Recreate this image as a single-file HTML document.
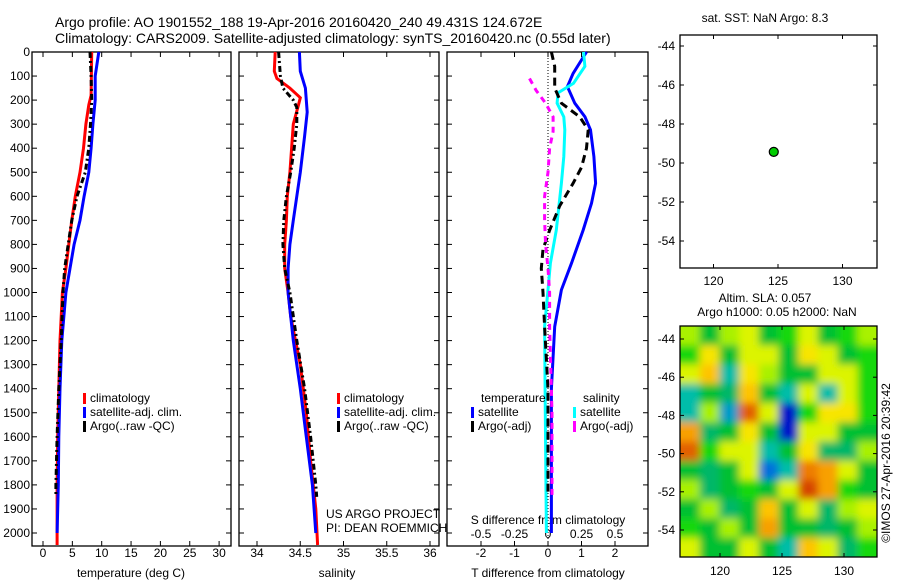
<!DOCTYPE html>
<html><head><meta charset="utf-8"><style>
body{margin:0;background:#fff;}
svg{display:block;font-family:"Liberation Sans",sans-serif;}
text{fill:#000;}
</style></head><body>
<svg id="c" width="900" height="580" viewBox="0 0 900 580">
<defs><filter id="blur" x="0" y="0" width="1" height="1"><feGaussianBlur stdDeviation="4"/></filter>
<clipPath id="hmclip"><rect x="680" y="326" width="197" height="231"/></clipPath></defs>
<text x="55" y="27" font-size="14">Argo profile: AO 1901552_188 19-Apr-2016 20160420_240 49.431S 124.672E</text>
<text x="55" y="43" font-size="14">Climatology: CARS2009. Satellite-adjusted climatology: synTS_20160420.nc (0.55d later)</text>
</svg>
<script>
// ---- data ----
const depthTicks=[0,100,200,300,400,500,600,700,800,900,1000,1100,1200,1300,1400,1500,1600,1700,1800,1900,2000];
const tempTicks=[0,5,10,15,20,25,30];
const salTicks=[34,34.5,35,35.5,36];
const dTTicks=[-2,-1,0,1,2];
const dSTicks=[-0.5,-0.25,0,0.25,0.5];
const tClimD=[0,180,220,300,400,500,600,700,800,900,1000,1200,1400,1600,1800,2050];
const tClimV=[8.3,8.2,7.8,7.3,6.9,6.3,5.5,4.9,4.4,3.9,3.3,2.9,2.7,2.5,2.4,2.4];
const tSatD=[0,100,200,300,400,500,600,700,800,900,1000,1200,1400,1600,1800,2000];
const tSatV=[9.5,8.9,8.9,8.5,8.2,7.8,7.0,6.3,5.3,4.6,3.9,3.2,2.9,2.7,2.6,2.4];
const tArgoD=[0,100,200,300,400,500,600,700,800,900,1000,1200,1400,1600,1800,1850];
const tArgoV=[8.0,8.2,8.3,8.1,7.8,7.2,5.8,4.9,4.3,3.7,3.4,3.1,2.7,2.4,2.2,2.2];
const sClimD=[0,80,110,150,190,220,300,400,500,600,700,800,900,1000,1100,1300,1500,1700,1900,2050];
const sClimV=[34.21,34.2,34.23,34.38,34.5,34.48,34.42,34.4,34.38,34.35,34.34,34.32,34.32,34.36,34.39,34.5,34.57,34.62,34.68,34.7];
const sSatD=[0,80,150,250,350,500,600,700,800,900,1000,1200,1400,1600,1800,2000];
const sSatV=[34.49,34.5,34.56,34.58,34.55,34.5,34.46,34.42,34.38,34.36,34.36,34.42,34.5,34.57,34.64,34.68];
const sArgoD=[0,100,150,200,230,300,400,500,600,700,800,900,1000,1200,1400,1600,1800,1850];
const sArgoV=[34.25,34.27,34.3,34.42,34.46,34.46,34.43,34.39,34.34,34.31,34.3,34.32,34.38,34.46,34.55,34.62,34.68,34.69];
const dTSatD=[0,89,144,213,269,324,435,546,629,740,878,989,1142,1400,1700,2000];
const dTSatV=[1.15,0.75,0.58,0.8,1.1,1.27,1.37,1.42,1.3,1.05,0.7,0.4,0.2,0.1,0.1,0.1];
const dSSatD=[0,60,130,170,213,270,324,435,546,740,878,989,1142,1500,2000];
const dSSatV=[0.265,0.275,0.19,0.075,0.068,0.118,0.125,0.118,0.1,0.062,0.018,0,-0.025,-0.02,-0.012];
const dTArgoD=[0,60,150,213,270,324,400,480,546,640,740,820,900,1000,1142,1400,1850];
const dTArgoV=[0.1,0.2,0.2,0.4,0.95,1.2,1.15,1.0,0.75,0.35,0.05,-0.15,-0.2,-0.15,-0.1,0,0];
const dSArgoD=[110,160,213,270,330,400,500,600,700,800,900,1000,1142,1500,1850];
const dSArgoV=[-0.138,-0.088,-0.018,0.038,0.038,0.012,0,-0.025,-0.025,-0.018,0,0.012,0.012,0.03,0.03];
const lonTicks=[120,125,130];
const latTicks=[-44,-46,-48,-50,-52,-54];
const latTicks2=[-44,-46,-48,-50,-52,-54];
const floatLon=[124.672];
const floatLat=[-49.431];
const slaGrid=[
[0.1,-0.2,0.1,0.2,-0.2,-0.1,0.2,-0.2,-0.1,0.1],
[-0.1,0.3,-0.2,0.2,0.2,-0.2,0.3,0.2,-0.2,-0.1],
[0.2,0.4,-0.4,0.3,0.1,-0.2,-0.2,0.2,0.2,-0.1],
[-0.4,-0.2,-0.3,0.4,-0.2,-0.4,0.2,-0.4,0.2,-0.1],
[-0.4,0.1,-0.5,0.7,0.2,-1.0,-0.1,0.3,0.3,-0.1],
[0.5,-0.3,-0.2,0.3,-0.2,-0.9,0.2,0.2,-0.2,-0.2],
[0.7,-0.1,0.2,0.2,-0.4,-0.2,0.3,-0.3,-0.3,0.1],
[-0.2,-0.3,-0.2,0.2,-0.6,-0.4,0.6,0.5,0.2,-0.2],
[0.1,-0.3,-0.2,-0.1,-0.2,0.2,0.8,0.5,-0.1,-0.2],
[-0.2,0.1,-0.3,-0.2,0.4,-0.2,0.2,-0.3,0.1,0.2],
[-0.1,-0.2,0.1,-0.2,0.5,-0.2,-0.2,-0.3,-0.2,0.1],
[0.2,-0.2,-0.2,0.2,-0.2,-0.4,0.4,0.2,-0.3,-0.1]];

const svg=document.getElementById('c');
const NS='http://www.w3.org/2000/svg';
function mk(tag,attrs,parent){const e=document.createElementNS(NS,tag);for(const k in attrs)e.setAttribute(k,attrs[k]);(parent||svg).appendChild(e);return e;}
function txt(x,y,s,size,anchor,parent){const t=mk('text',{x:x,y:y,'font-size':size,'text-anchor':anchor||'start'},parent);t.textContent=s;return t;}

const TOP=52,BOT=546;
const yD=d=>TOP+d*0.2405;
const P1={l:32,r:231}, P2={l:239,r:439}, P3={l:447,r:648};
const xT=t=>43+5.87*t;
const xS=s=>257+86.5*(s-34);
const xDT=v=>548+33.5*v;
const xDS=v=>548+134*v;

function frame(P,name){
  const r=mk('rect',{x:P.l,y:TOP,width:P.r-P.l,height:BOT-TOP,fill:'none',stroke:'#000','stroke-width':1.3});
  
  
  depthTicks.forEach(d=>{mk('line',{x1:P.l,x2:P.l+5,y1:yD(d),y2:yD(d),stroke:'#000'});mk('line',{x1:P.r,x2:P.r-5,y1:yD(d),y2:yD(d),stroke:'#000'});});
}
function xticks(P,ticks,fx,labY,name){
  const g=mk('g',{});
  
  
  ticks.forEach(v=>{const x=fx(v);mk('line',{x1:x,x2:x,y1:BOT,y2:BOT-5,stroke:'#000'},g);mk('line',{x1:x,x2:x,y1:TOP,y2:TOP+5,stroke:'#000'},g);if(labY)txt(x,labY,String(v),12,'middle',g);});
}
function line(D,V,fx,color,dash,name,w){
  const pts=D.map((d,i)=>fx(V[i]).toFixed(1)+','+yD(d).toFixed(1)).join(' ');
  const p=mk('polyline',{points:pts,fill:'none',stroke:color,'stroke-width':w||3,'stroke-dasharray':dash||'none'});
  
  
}
function legend(x,y,items,name){
  const g=mk('g',{});
  
  
  items.forEach((it,i)=>{mk('rect',{x:x,y:y+i*14-9,width:3,height:11,fill:it[1]},g);txt(x+7,y+i*14,it[0],12,'start',g);});
}

// panel 1
frame(P1,'temperature-panel');
const yl=mk('g',{});


depthTicks.forEach(d=>txt(30,yD(d)+4,String(d),12,'end',yl));
xticks(P1,tempTicks,xT,557,'temperature-x-axis');
txt(131,577,'temperature (deg C)',12,'middle');
line(tClimD,tClimV,xT,'#ff0000',null,'temp-climatology-line');
line(tSatD,tSatV,xT,'#0000ff',null,'temp-satellite-line');
line(tArgoD,tArgoV,xT,'#000',"6,3,2,3",'temp-argo-line');
legend(83,402,[['climatology','#ff0000'],['satellite-adj. clim.','#0000ff'],['Argo(..raw -QC)','#000']],'temperature-legend');

// panel 2
frame(P2,'salinity-panel');
xticks(P2,salTicks,xS,557,'salinity-x-axis');
txt(337,577,'salinity',12,'middle');
line(sClimD,sClimV,xS,'#ff0000',null,'sal-climatology-line');
line(sSatD,sSatV,xS,'#0000ff',null,'sal-satellite-line');
line(sArgoD,sArgoV,xS,'#000',"6,3,2,3",'sal-argo-line');
legend(337,402,[['climatology','#ff0000'],['satellite-adj. clim.','#0000ff'],['Argo(..raw -QC)','#000']],'salinity-legend');
txt(326,518,'US ARGO PROJECT',12);
txt(326,532,'PI: DEAN ROEMMICH',12);

// panel 3
frame(P3,'difference-panel');
xticks(P3,dTTicks,xDT,557,'dT-x-axis');
const sl=mk('g',{});


dSTicks.forEach(v=>txt(xDS(v),538,String(v),12,'middle',sl));
txt(548,524,'S difference from climatology',12,'middle');
txt(548,577,'T difference from climatology',12,'middle');
mk('line',{x1:xDT(0),x2:xDT(0),y1:TOP,y2:BOT,stroke:'#000','stroke-dasharray':'1,2'});
line(dTSatD,dTSatV,xDT,'#0000ff',null,'dT-satellite-line');
line(dSSatD,dSSatV,xDS,'#00ffff',null,'dS-satellite-line');
line(dTArgoD,dTArgoV,xDT,'#000',"8,5",'dT-argo-line');
line(dSArgoD,dSArgoV,xDS,'#ff00ff',"6,5",'dS-argo-line');
txt(481,402,'temperature',12);
txt(583,402,'salinity',12);
legend(471,416,[['satellite','#0000ff'],['Argo(-adj)','#000']],'diff-temp-legend');
legend(573,416,[['satellite','#00ffff'],['Argo(-adj)','#ff00ff']],'diff-sal-legend');

// map 1
const M1={l:680,r:877,t:35,b:268};
const mx1=lon=>778+12.9*(lon-125);
const my1=lat=>46+19.5*(-44-lat);
const m1=mk('rect',{x:M1.l,y:M1.t,width:M1.r-M1.l,height:M1.b-M1.t,fill:'none',stroke:'#000','stroke-width':1.3});


txt(765,22,'sat. SST: NaN Argo: 8.3',12,'middle');
lonTicks.forEach(v=>{mk('line',{x1:mx1(v),x2:mx1(v),y1:M1.b,y2:M1.b-4,stroke:'#000'});mk('line',{x1:mx1(v),x2:mx1(v),y1:M1.t,y2:M1.t+4,stroke:'#000'});txt(mx1(v),285,String(v),12,'middle');});
latTicks.forEach(v=>{mk('line',{x1:M1.l,x2:M1.l+4,y1:my1(v),y2:my1(v),stroke:'#000'});mk('line',{x1:M1.r,x2:M1.r-4,y1:my1(v),y2:my1(v),stroke:'#000'});txt(675,my1(v)+4,String(v),12,'end');});
floatLon.forEach((lo,i)=>{const c=mk('circle',{cx:mx1(lo),cy:my1(floatLat[i]),r:4.5,fill:'#00cc00',stroke:'#000','stroke-width':1.2});

});

// map 2 heatmap
const M2={l:680,r:877,t:326,b:557};
const mx2=lon=>720+12.4*(lon-120);
const my2=lat=>339+19.1*(-44-lat);
txt(765,302,'Altim. SLA: 0.057',12,'middle');
txt(777,316,'Argo h1000: 0.05 h2000: NaN',12,'middle');
const stops=[[-1,[0,20,200]],[-0.7,[0,120,220]],[-0.5,[0,190,180]],[-0.3,[0,180,70]],[-0.1,[20,220,0]],[0.1,[160,240,0]],[0.3,[245,245,0]],[0.5,[255,190,0]],[0.7,[240,130,0]],[1,[210,60,0]]];
function cmap(v){for(let i=0;i<stops.length-1;i++){const a=stops[i],b=stops[i+1];if(v<=b[0]){const f=Math.max(0,(v-a[0])/(b[0]-a[0]));return 'rgb('+a[1].map((c,k)=>Math.round(c+(b[1][k]-c)*f)).join(',')+')';}}return 'rgb(210,60,0)';}
const hg=mk('g',{'clip-path':'url(#hmclip)'});


const hb=mk('g',{filter:'url(#blur)'},hg);
const nr=slaGrid.length,nc=slaGrid[0].length;
const cw=(M2.r-M2.l)/nc,ch=(M2.b-M2.t)/nr;
mk('rect',{x:M2.l-20,y:M2.t-20,width:240,height:280,fill:cmap(-0.1)},hb);
slaGrid.forEach((row,r)=>row.forEach((v,c)=>{
  const x0=M2.l+c*cw-(c===0?20:0), y0=M2.t+r*ch-(r===0?20:0);
  const w=cw+(c===0?20:0)+(c===nc-1?20:0)+0.5, h=ch+(r===0?20:0)+(r===nr-1?20:0)+0.5;
  const cell=mk('rect',{x:x0,y:y0,width:w,height:h,fill:cmap(v*1.2)},hb);
  
  
}));
mk('rect',{x:M2.l,y:M2.t,width:M2.r-M2.l,height:M2.b-M2.t,fill:'none',stroke:'#000','stroke-width':1.3});
lonTicks.forEach(v=>{mk('line',{x1:mx2(v),x2:mx2(v),y1:M2.b,y2:M2.b-4,stroke:'#000'});mk('line',{x1:mx2(v),x2:mx2(v),y1:M2.t,y2:M2.t+4,stroke:'#000'});txt(mx2(v),575,String(v),12,'middle');});
latTicks2.forEach(v=>{mk('line',{x1:M2.l,x2:M2.l+4,y1:my2(v),y2:my2(v),stroke:'#000'});mk('line',{x1:M2.r,x2:M2.r-4,y1:my2(v),y2:my2(v),stroke:'#000'});txt(675,my2(v)+4,String(v),12,'end');});
const cr=txt(0,0,'©IMOS 27-Apr-2016 20:39:42',12,'middle');
cr.setAttribute('transform','translate(890,463) rotate(-90)');


</script>
</body></html>
